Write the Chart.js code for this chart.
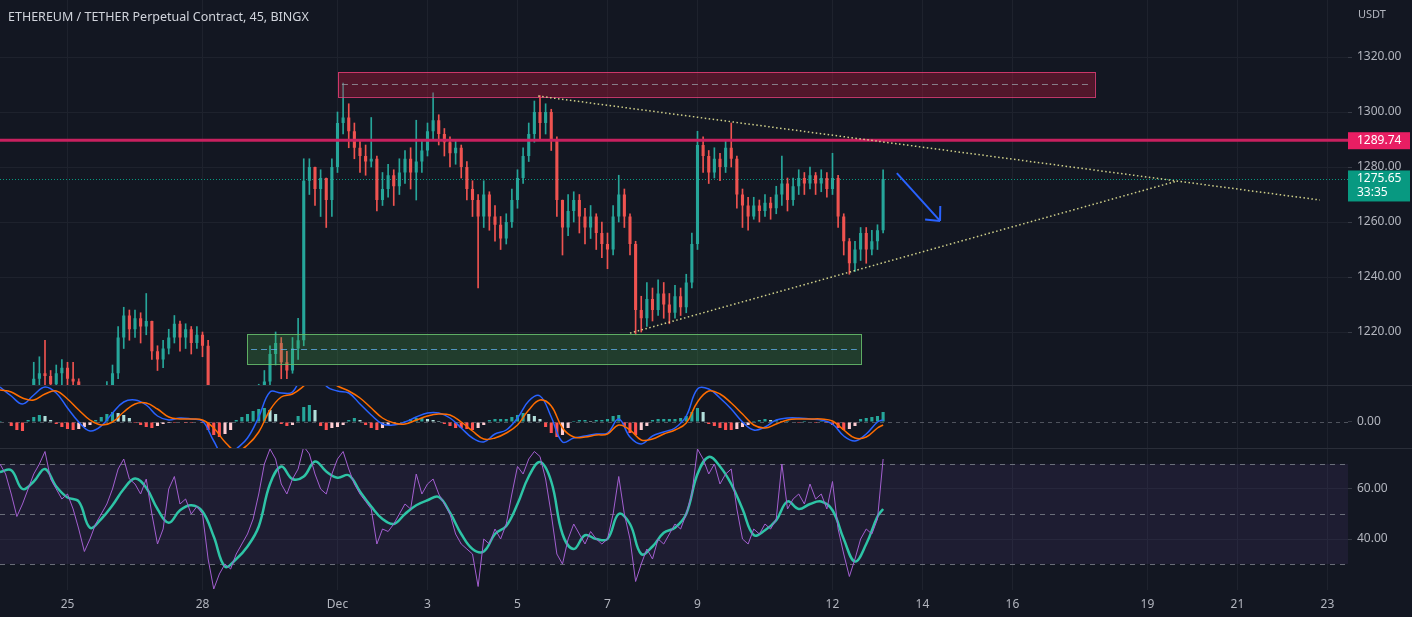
<!DOCTYPE html>
<html>
<head>
<meta charset="utf-8">
<title>ETHEREUM / TETHER 45</title>
<script src="https://cdn.jsdelivr.net/npm/chart.js@4.4.1/dist/chart.umd.min.js"></script>
<style>
  html, body { margin: 0; padding: 0; background: #131722; }
  #wrap { position: relative; width: 1412px; height: 617px; overflow: hidden; background: #131722; font-family: 'Noto Sans', sans-serif; }
  .pane { position: absolute; left: 0; width: 1412px; }
  #pMain { top: 0; height: 385px; }
  #pMacd { top: 386px; height: 62px; }
  #pRsi { top: 449px; height: 168px; }
  .sep { position: absolute; left: 0; width: 1412px; height: 1px; background: #2a2e39; }
  #title { position: absolute; left: 8px; top: 8px; color: #d1d4dc; font-size: 12.5px; z-index: 2; }
  #unit { position: absolute; left: 1358px; top: 6px; color: #b2b5be; font-size: 11px; z-index: 2; }
</style>
</head>
<body>
<div id="wrap">
  <div id="title">ETHEREUM / TETHER Perpetual Contract, 45, BINGX</div>
  <div id="unit">USDT</div>
  <div class="pane" id="pMain"><canvas id="cMain"></canvas></div>
  <div class="sep" style="top:385px"></div>
  <div class="pane" id="pMacd"><canvas id="cMacd"></canvas></div>
  <div class="sep" style="top:448px"></div>
  <div class="pane" id="pRsi"><canvas id="cRsi"></canvas></div>
</div>
<script>
// time in days from 25 Nov 00:00, candles bucketed every 3h
const START_DAY = -1.5;
const STEP = 0.125;
const FIRST_OPEN = 1190;

const xTickDays = [0, 3, 6, 8, 10, 12, 14, 17, 19, 21, 24, 26, 28];
const xTickLabels = ['25', '28', 'Dec', '3', '5', '7', '9', '12', '14', '16', '19', '21', '23'];

const priceTicks = [1220, 1240, 1260, 1280, 1300, 1320];
const macdTicks = [0];
const rsiTicks = [40, 60];

const closes = [
  1188, 1192, 1190, 1195, 1193, 1197, 1203, 1205, 1204, 1201,
  1205, 1207, 1203, 1202, 1196, 1193, 1191, 1194, 1196, 1199,
  1205, 1218, 1226, 1221, 1225, 1222, 1224, 1213, 1210, 1214,
  1218, 1223, 1218, 1221, 1216, 1219, 1215, 1192, 1180, 1172,
  1168, 1175, 1170, 1178, 1182, 1188, 1196, 1202, 1212, 1216,
  1209, 1206, 1214, 1217, 1275, 1280, 1272, 1276, 1268, 1280,
  1296, 1298, 1293, 1287, 1284, 1282, 1283, 1268, 1272, 1277,
  1273, 1278, 1283, 1278, 1282, 1286, 1293, 1297, 1292, 1289,
  1285, 1287, 1280, 1272, 1268, 1262, 1270, 1262, 1259, 1254,
  1260, 1268, 1276, 1284, 1292, 1300, 1296, 1300, 1290, 1268,
  1258, 1264, 1268, 1262, 1258, 1262, 1256, 1252, 1250, 1262,
  1270, 1262, 1252, 1228, 1225, 1232, 1228, 1234, 1230, 1227,
  1233, 1229, 1238, 1252, 1288, 1284, 1278, 1283, 1280, 1287,
  1283, 1270, 1266, 1262, 1266, 1264, 1267, 1265, 1270, 1274,
  1268, 1273, 1276, 1274, 1277, 1274, 1276, 1272, 1276, 1262,
  1253, 1245, 1250, 1256, 1250, 1253, 1257, 1275.65
];
const highs = [
  1194, 1196, 1195, 1198, 1197, 1199, 1209, 1211, 1217, 1206,
  1208, 1210, 1209, 1209, 1203, 1198, 1196, 1198, 1199, 1202,
  1208, 1222, 1229, 1228, 1228, 1227, 1234, 1224, 1215, 1217,
  1221, 1226, 1224, 1223, 1222, 1222, 1220, 1217, 1194, 1182,
  1176, 1179, 1177, 1181, 1186, 1191, 1201, 1206, 1215, 1220,
  1218, 1213, 1218, 1225, 1283, 1283, 1280, 1279, 1276, 1283,
  1300, 1310.5, 1303, 1296, 1290, 1288, 1298, 1284, 1278, 1281,
  1279, 1283, 1286, 1287, 1297, 1290, 1296, 1307, 1299, 1294,
  1291, 1290, 1288, 1282, 1275, 1270, 1275, 1271, 1266, 1262,
  1263, 1272, 1279, 1287, 1296, 1304, 1306, 1303, 1301, 1291,
  1268, 1270, 1271, 1270, 1265, 1266, 1263, 1260, 1256, 1266,
  1277, 1272, 1263, 1253, 1233, 1238, 1236, 1239, 1238, 1234,
  1237, 1236, 1241, 1256, 1293, 1291, 1286, 1287, 1285, 1290,
  1296, 1284, 1272, 1269, 1269, 1268, 1270, 1269, 1273, 1284,
  1276, 1276, 1279, 1278, 1280, 1278, 1279, 1278, 1285, 1277,
  1263, 1254, 1253, 1258, 1258, 1257, 1259, 1279
];
const lows = [
  1184, 1187, 1186, 1189, 1190, 1191, 1196, 1196, 1198, 1195,
  1197, 1200, 1199, 1198, 1190, 1187, 1186, 1188, 1190, 1193,
  1197, 1203, 1214, 1217, 1218, 1216, 1219, 1210, 1206, 1207,
  1212, 1216, 1213, 1214, 1212, 1214, 1211, 1185, 1176, 1166,
  1162, 1165, 1166, 1168, 1175, 1180, 1186, 1194, 1200, 1208,
  1203, 1203, 1205, 1210, 1215, 1270, 1266, 1262, 1258, 1262,
  1278, 1292, 1287, 1283, 1278, 1277, 1280, 1264, 1266, 1269,
  1266, 1270, 1274, 1272, 1268, 1278, 1284, 1290, 1288, 1284,
  1280, 1281, 1276, 1268, 1262, 1236, 1258, 1257, 1253, 1250,
  1252, 1258, 1265, 1274, 1282, 1289, 1290, 1292, 1286, 1262,
  1248, 1255, 1260, 1256, 1252, 1254, 1250, 1247, 1243, 1248,
  1260, 1258, 1248, 1219, 1220, 1222, 1224, 1226, 1225, 1223,
  1225, 1226, 1227, 1236, 1250, 1278, 1274, 1276, 1275, 1278,
  1280, 1265, 1258, 1257, 1261, 1260, 1262, 1261, 1263, 1266,
  1264, 1266, 1270, 1270, 1272, 1270, 1271, 1269, 1270, 1258,
  1248, 1241, 1242, 1246, 1245, 1248, 1250, 1256
];

// MACD histogram, one bar per candle
const macdHist = [
  0.1, 0.0, -0.4, -0.8, -0.9, 0.2, 0.5, 0.7, 0.6, 0.2,
  -0.2, -0.5, -0.7, -0.8, -0.7, -0.5, -0.3, 0.2, 0.5, 0.8,
  1.0, 0.9, 0.7, 0.4, -0.1, -0.3, -0.5, -0.6, -0.4, -0.2,
  -0.1, -0.1, 0.0, -0.1, -0.1, 0.0, -0.1, -0.8, -1.3, -1.5,
  -1.2, -0.8, 0.2, 0.5, 0.8, 1.1, 1.3, 1.4, 1.2, 0.8,
  -0.2, -0.4, -0.3, 0.6, 1.5, 1.7, 1.2, -0.4, -0.8, -0.6,
  -0.5, -0.3, 0.2, 0.4, 0.2, -0.3, -0.6, -0.8, -0.6, -0.3,
  -0.1, 0.0, 0.1, 0.3, 0.4, 0.4, 0.3, 0.2, 0.1, -0.2,
  -0.4, -0.6, -0.6, -0.7, -0.8, -0.6, -0.3, 0.2, 0.3, 0.3,
  0.3, 0.5, 0.7, 0.9, 0.8, 0.6, 0.3, -0.5, -1.1, -1.5,
  -1.3, -0.6, 0.1, 0.2, 0.2, 0.1, 0.2, 0.2, 0.3, 0.6,
  0.7, -0.4, -1.1, -1.3, -0.8, -0.4, 0.2, 0.3, 0.3, 0.3,
  0.3, 0.4, 0.6, 1.0, 1.4, 1.0, -0.2, -0.4, -0.6, -0.8,
  -0.8, -0.7, -0.5, -0.3, 0.1, 0.2, 0.3, 0.2, 0.2, 0.1,
  0.1, 0.0, -0.1, 0.1, 0.0, -0.1, 0.1, -0.1, -0.3, -0.6,
  -0.8, -0.7, -0.4, 0.3, 0.4, 0.5, 0.6, 1.0
];
// MACD and signal lines, one point every second candle (last point = last candle)
const macdLine = [
  3.5, 2.6, 1.8, 2.7, 3.5, 2.9, 1.4, 0.0, -0.9, -0.4,
  0.9, 2.0, 2.2, 1.7, 0.6, 0.2, 0.4, 0.3, 0.1, -1.9,
  -3.6, -2.7, -1.6, 0.5, 3.0, 2.9, 3.0, 5.0, 5.8, 3.6,
  3.1, 2.9, 1.8, 0.7, -0.2, -0.3, 0.0, 0.5, 0.9, 0.9,
  0.4, -0.6, -1.6, -2.0, -1.2, -0.8, 0.4, 2.1, 2.6, 0.5,
  -2.0, -1.6, -1.4, -1.2, -1.1, 0.3, -1.5, -2.2, -1.4, -1.0,
  -0.6, 0.6, 3.3, 3.3, 2.4, 1.3, 0.0, -0.8, -0.5, 0.2,
  0.4, 0.4, 0.3, 0.2, -0.2, -1.4, -1.9, -1.2, 0.0, 0.2
];
const signalLine = [
  3.2, 3.0, 2.4, 2.2, 2.8, 3.1, 2.3, 1.2, 0.2, -0.3,
  0.0, 1.0, 1.8, 1.9, 1.3, 0.5, 0.3, 0.3, 0.2, -0.6,
  -2.0, -2.9, -2.3, -1.0, 1.2, 2.5, 2.8, 3.6, 4.6, 4.3,
  3.6, 3.1, 2.4, 1.4, 0.4, -0.1, -0.2, 0.2, 0.6, 0.8,
  0.7, 0.0, -0.9, -1.7, -1.6, -1.1, -0.3, 1.2, 2.2, 1.6,
  -0.6, -1.5, -1.5, -1.3, -1.2, -0.3, -0.8, -1.8, -1.7, -1.2,
  -0.8, -0.1, 2.0, 3.1, 2.8, 1.9, 0.8, -0.3, -0.6, -0.2,
  0.2, 0.3, 0.3, 0.3, 0.1, -0.8, -1.6, -1.5, -0.6, -0.3
];

// RSI, one value per candle
const rsi = [
  70, 66, 58, 49, 54, 60, 66, 70, 75, 64,
  60, 56, 58, 52, 44, 35, 40, 46, 50, 54,
  60, 68, 72, 64, 62, 58, 64, 50, 38, 44,
  60, 65, 54, 56, 50, 53, 50, 32, 20, 26,
  30, 28, 34, 38, 42, 48, 58, 70, 76, 72,
  62, 58, 64, 68, 77, 74, 66, 60, 58, 66,
  72, 75, 68, 62, 58, 55, 52, 38, 44, 43,
  46, 50, 54, 52, 66, 58, 62, 64, 58, 54,
  50, 42, 38, 36, 34, 21, 40, 38, 44, 40,
  46, 58, 69, 66, 72, 75, 73, 64, 50, 34,
  30, 40, 46, 42, 38, 43, 40, 38, 40, 50,
  65, 50, 40, 23, 30, 36, 32, 40, 38, 42,
  46, 44, 50, 58, 76, 72, 66, 70, 62, 66,
  68, 52, 40, 38, 44, 42, 46, 44, 48, 70,
  52, 56, 58, 54, 62, 56, 58, 52, 63, 44,
  34, 25, 32, 40, 44, 42, 48, 72
];
// RSI moving average, one point every second candle
const rsiMa = [
  66.8, 67.5, 60, 63, 68, 61, 56.6, 55, 44.5, 48,
  53.5, 60, 64.2, 60.5, 52, 46.5, 51.5, 53.5, 51, 41,
  29, 32, 37, 45, 62, 69, 64, 65, 71, 67,
  64.5, 65.5, 59, 53, 48, 46, 50, 53.5, 55.5, 56.8,
  50.5, 42, 36, 35, 42, 45.2, 54, 65, 70.8, 63,
  42, 36, 41.5, 40, 40, 50, 46, 34, 37, 42.5,
  44.5, 50, 66, 72.8, 69, 62, 52, 41.6, 43.5, 47.5,
  55, 52, 54, 55, 51.5, 40, 31, 38, 49, 52
];

// drawings (in days / price)
const lastPrice = 1275.65;
const countdown = '33:35';
const keyLevel = 1289.74;
const supplyZone = { from: 6.01, to: 22.83, top: 1314.5, bottom: 1305.5, mid: 1310.1 };
const demandZone = { from: 3.99, to: 17.63, top: 1219.3, bottom: 1208.4, mid: 1213.8 };
const upperTrend = [[10.46, 1305.8], [27.83, 1268.0]];
const lowerTrend = [[12.5, 1219.6], [24.66, 1274.9]];
const arrow = [[18.43, 1277.8], [19.39, 1260.4]];

const UP = '#26a69a', DOWN = '#ef5350';
const GRID = '#1e222d';
const TXT = '#b2b5be';
const FONT = { family: "'Noto Sans', sans-serif", size: 12 };

const opens = closes.map((c, i) => (i === 0 ? FIRST_OPEN : closes[i - 1]));
const stamps = closes.map((c, i) => START_DAY + i * STEP);
const candleColors = closes.map((c, i) => (c >= opens[i] ? UP : DOWN));
const halfStamp = k => stamps[Math.min(k * 2, stamps.length - 1)];

const histColors = macdHist.map((v, i) => {
  const prev = i ? macdHist[i - 1] : 0;
  if (v >= 0) return v >= prev ? '#26a69a' : '#b2dfdb';
  return v <= prev ? '#ff5252' : '#ffcdd2';
});

function xScale(showLabels) {
  return {
    type: 'linear', min: -1.5, max: 28.456, offset: false,
    grid: { color: GRID, drawTicks: false, offset: false },
    border: { display: false },
    afterBuildTicks: s => { s.ticks = xTickDays.map(v => ({ value: v })); },
    ticks: {
      display: showLabels, color: TXT, font: FONT, padding: 7,
      autoSkip: false, maxRotation: 0,
      callback: (v, i) => xTickLabels[i],
    },
    afterFit: s => {
      s.height = showLabels ? 27 : 0;
      s.paddingLeft = 0; s.paddingRight = 0;
    },
  };
}

function yScale(min, max, list, gridColor) {
  return {
    position: 'right', min, max,
    grid: { color: gridColor, tickColor: '#363a45', tickLength: 4 },
    border: { display: false },
    afterBuildTicks: s => { s.ticks = list.map(v => ({ value: v })); },
    ticks: { color: TXT, font: FONT, padding: 5, callback: v => v.toFixed(2) },
    afterFit: s => {
      s.width = 64;
      s.paddingTop = 0; s.paddingBottom = 0;
    },
  };
}

const base = {
  responsive: true,
  maintainAspectRatio: false,
  animation: false,
  events: [],
  layout: { padding: 0 },
  plugins: { legend: { display: false }, tooltip: { enabled: false } },
};

function hLine(ctx, a, yy, color, width, dash) {
  ctx.save();
  ctx.strokeStyle = color; ctx.lineWidth = width; ctx.setLineDash(dash);
  ctx.beginPath(); ctx.moveTo(a.left, yy); ctx.lineTo(a.right, yy); ctx.stroke();
  ctx.restore();
}

function drawZone(ctx, x, y, z, fill, edge, midColor) {
  const x0 = x.getPixelForValue(z.from), x1 = x.getPixelForValue(z.to);
  const y0 = y.getPixelForValue(z.top), y1 = y.getPixelForValue(z.bottom);
  const ym = Math.round(y.getPixelForValue(z.mid)) + 0.5;
  ctx.fillStyle = fill;
  ctx.fillRect(x0, y0, x1 - x0, y1 - y0);
  ctx.strokeStyle = edge; ctx.lineWidth = 1; ctx.setLineDash([]);
  ctx.strokeRect(Math.round(x0) + 0.5, Math.round(y0) + 0.5, Math.round(x1 - x0), Math.round(y1 - y0));
  ctx.strokeStyle = midColor; ctx.setLineDash([6, 4]);
  ctx.beginPath(); ctx.moveTo(x0 + 4, ym); ctx.lineTo(x1 - 4, ym); ctx.stroke();
  ctx.setLineDash([]);
}

function segment(ctx, x, y, seg) {
  ctx.beginPath();
  ctx.moveTo(x.getPixelForValue(seg[0][0]), y.getPixelForValue(seg[0][1]));
  ctx.lineTo(x.getPixelForValue(seg[1][0]), y.getPixelForValue(seg[1][1]));
  ctx.stroke();
}

const mainDrawings = {
  id: 'mainDrawings',
  beforeDatasetsDraw(chart) {
    const { ctx, chartArea: a, scales: { y } } = chart;
    hLine(ctx, a, Math.round(y.getPixelForValue(lastPrice)) + 0.5, '#089981', 1, [1, 2]);
  },
  afterDatasetsDraw(chart) {
    const { ctx, chartArea: a, scales: { x, y } } = chart;
    ctx.save();
    ctx.beginPath(); ctx.rect(a.left, a.top, a.right - a.left, a.bottom - a.top); ctx.clip();
    drawZone(ctx, x, y, supplyZone, 'rgba(190,25,60,0.36)', 'rgba(236,64,122,0.8)', 'rgba(149,152,161,0.8)');
    drawZone(ctx, x, y, demandZone, 'rgba(76,175,80,0.25)', 'rgba(102,187,106,0.9)', 'rgba(100,181,246,0.75)');
    hLine(ctx, a, y.getPixelForValue(keyLevel), '#c8215f', 3, []);
    ctx.strokeStyle = 'rgba(230,230,150,0.9)'; ctx.lineWidth = 1.5; ctx.setLineDash([1.5, 2.5]);
    segment(ctx, x, y, upperTrend);
    segment(ctx, x, y, lowerTrend);
    ctx.setLineDash([]);
    ctx.strokeStyle = '#2962ff'; ctx.lineWidth = 2;
    segment(ctx, x, y, arrow);
    const tx = x.getPixelForValue(arrow[1][0]), ty = y.getPixelForValue(arrow[1][1]);
    const sx = x.getPixelForValue(arrow[0][0]), sy = y.getPixelForValue(arrow[0][1]);
    const ang = Math.atan2(sy - ty, sx - tx);
    ctx.beginPath();
    [-0.75, 0.75].forEach(d => {
      ctx.moveTo(tx, ty);
      ctx.lineTo(tx + 15 * Math.cos(ang + d), ty + 15 * Math.sin(ang + d));
    });
    ctx.stroke();
    ctx.restore();
  },
  afterDraw(chart) {
    const { ctx, chartArea: a, scales: { y } } = chart;
    const left = a.right, w = 62;
    ctx.save();
    ctx.font = "12px 'Noto Sans', sans-serif";
    ctx.textBaseline = 'middle';
    let yy = y.getPixelForValue(keyLevel);
    ctx.fillStyle = '#e91e63';
    ctx.fillRect(left, yy - 8, w, 17);
    ctx.fillStyle = '#ffffff';
    ctx.fillText(keyLevel.toFixed(2), left + 9, yy + 0.5);
    yy = y.getPixelForValue(lastPrice);
    ctx.fillStyle = '#089981';
    ctx.fillRect(left, yy - 8.5, w, 31);
    ctx.fillStyle = '#ffffff';
    ctx.fillText(lastPrice.toFixed(2), left + 9, yy);
    ctx.fillText(countdown, left + 9, yy + 14);
    ctx.restore();
  },
};

const macdZero = {
  id: 'macdZero',
  beforeDatasetsDraw(chart) {
    const { ctx, chartArea: a, scales: { y } } = chart;
    hLine(ctx, a, Math.round(y.getPixelForValue(0)) + 0.5, 'rgba(120,123,134,0.6)', 1, [4, 4]);
  },
};

const rsiBand = {
  id: 'rsiBand',
  beforeDatasetsDraw(chart) {
    const { ctx, chartArea: a, scales: { y } } = chart;
    const top = y.getPixelForValue(70), bot = y.getPixelForValue(30);
    ctx.save();
    ctx.fillStyle = 'rgba(126,87,194,0.1)';
    ctx.fillRect(a.left, top, a.right - a.left, bot - top);
    ctx.restore();
    [70, 50, 30].forEach(v => hLine(ctx, a, Math.round(y.getPixelForValue(v)) + 0.5, 'rgba(120,123,134,0.85)', 1, [5, 5]));
  },
};

new Chart(document.getElementById('cMain'), {
  type: 'bar',
  data: {
    datasets: [
      {
        data: stamps.map((t, i) => ({ x: t, y: [lows[i], highs[i]] })),
        backgroundColor: candleColors, barThickness: 1, grouped: false, clip: 0, order: 2,
      },
      {
        data: stamps.map((t, i) => ({ x: t, y: [Math.min(opens[i], closes[i]), Math.max(opens[i], closes[i])] })),
        backgroundColor: candleColors, barPercentage: 0.55, categoryPercentage: 1,
        grouped: false, minBarLength: 1, clip: 0, order: 1,
      },
    ],
  },
  options: { ...base, scales: { x: xScale(false), y: yScale(1200.73, 1340.73, priceTicks, GRID) } },
  plugins: [mainDrawings],
});

new Chart(document.getElementById('cMacd'), {
  type: 'bar',
  data: {
    datasets: [
      {
        type: 'line', data: macdLine.map((v, k) => ({ x: halfStamp(k), y: v })),
        borderColor: '#2962ff', borderWidth: 1.5, pointRadius: 0, tension: 0.4, clip: 0, order: 1,
      },
      {
        type: 'line', data: signalLine.map((v, k) => ({ x: halfStamp(k), y: v })),
        borderColor: '#ff6d00', borderWidth: 1.5, pointRadius: 0, tension: 0.4, clip: 0, order: 0,
      },
      {
        data: macdHist.map((v, i) => ({ x: stamps[i], y: v })),
        backgroundColor: histColors, barPercentage: 0.55, categoryPercentage: 1, clip: 0, order: 2,
      },
    ],
  },
  options: { ...base, scales: { x: xScale(false), y: yScale(-2.6, 3.6, macdTicks, 'transparent') } },
  plugins: [macdZero],
});

new Chart(document.getElementById('cRsi'), {
  type: 'line',
  data: {
    datasets: [
      {
        data: rsi.map((v, i) => ({ x: stamps[i], y: v })),
        borderColor: '#a35fd0', borderWidth: 1, pointRadius: 0, tension: 0, clip: 0,
      },
      {
        data: rsiMa.map((v, k) => ({ x: halfStamp(k), y: v })),
        borderColor: '#2ec4a6', borderWidth: 2.5, pointRadius: 0, tension: 0.4, clip: 0,
      },
    ],
  },
  options: { ...base, scales: { x: xScale(true), y: yScale(19.6, 76, rsiTicks, GRID) } },
  plugins: [rsiBand],
});
</script>
</body>
</html>
